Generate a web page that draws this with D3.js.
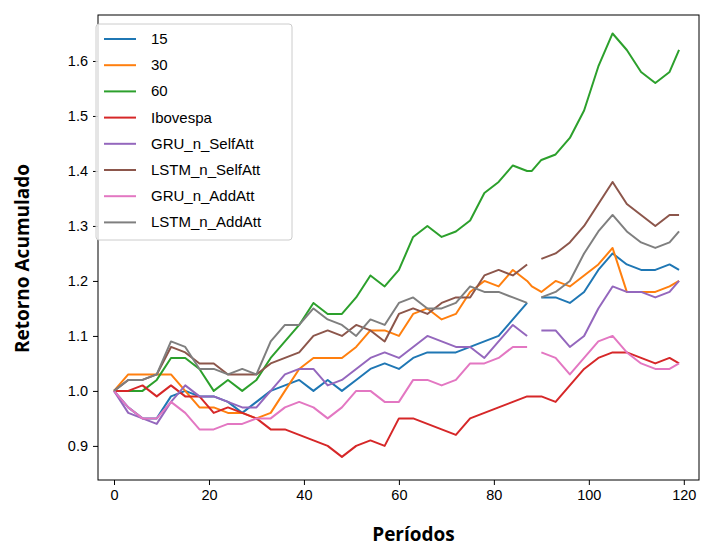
<!DOCTYPE html>
<html><head><meta charset="utf-8">
<script src="https://cdn.jsdelivr.net/npm/d3@7"></script>
<style>body{margin:0;background:#fff}</style>
</head><body><div id="main"></div>
<script>
const periods = [0,3,6,9,12,15,18,21,24,27,30,33,36,39,42,45,48,51,54,57,60,63,66,69,72,75,78,81,84,87,88,90,93,96,99,102,105,108,111,114,117,119]
const s15 = [1.0,0.97,0.95,0.95,0.99,1.0,0.99,0.99,0.98,0.96,0.98,1.0,1.01,1.02,1.0,1.02,1.0,1.02,1.04,1.05,1.04,1.06,1.07,1.07,1.07,1.08,1.09,1.10,1.13,1.16,null,1.17,1.17,1.16,1.18,1.22,1.25,1.23,1.22,1.22,1.23,1.22]
const s30 = [1.0,1.03,1.03,1.03,1.03,1.0,0.97,0.97,0.96,0.96,0.95,0.96,1.0,1.04,1.06,1.06,1.06,1.08,1.11,1.11,1.10,1.14,1.15,1.13,1.14,1.18,1.20,1.19,1.22,1.20,1.19,1.18,1.20,1.19,1.21,1.23,1.26,1.18,1.18,1.18,1.19,1.20]
const s60 = [1.0,1.0,1.0,1.02,1.06,1.06,1.04,1.0,1.02,1.0,1.02,1.06,1.09,1.12,1.16,1.14,1.14,1.17,1.21,1.19,1.22,1.28,1.30,1.28,1.29,1.31,1.36,1.38,1.41,1.40,1.40,1.42,1.43,1.46,1.51,1.59,1.65,1.62,1.58,1.56,1.58,1.62]
const ibov = [1.0,1.0,1.01,0.99,1.01,0.99,0.99,0.96,0.97,0.96,0.95,0.93,0.93,0.92,0.91,0.90,0.88,0.90,0.91,0.90,0.95,0.95,0.94,0.93,0.92,0.95,0.96,0.97,0.98,0.99,0.99,0.99,0.98,1.01,1.04,1.06,1.07,1.07,1.06,1.05,1.06,1.05]
const gruSelf = [1.0,0.96,0.95,0.94,0.98,1.01,0.99,0.99,0.98,0.97,0.97,1.0,1.03,1.04,1.04,1.01,1.02,1.04,1.06,1.07,1.06,1.08,1.10,1.09,1.08,1.08,1.06,1.09,1.12,1.10,null,1.11,1.11,1.08,1.10,1.15,1.19,1.18,1.18,1.17,1.18,1.20]
const lstmSelf = [1.0,1.02,1.02,1.03,1.08,1.07,1.05,1.05,1.03,1.03,1.03,1.05,1.06,1.07,1.10,1.11,1.10,1.12,1.11,1.09,1.14,1.15,1.14,1.16,1.17,1.17,1.21,1.22,1.21,1.23,null,1.24,1.25,1.27,1.30,1.34,1.38,1.34,1.32,1.30,1.32,1.32]
const gruAdd = [1.0,0.97,0.95,0.95,0.98,0.96,0.93,0.93,0.94,0.94,0.95,0.95,0.97,0.98,0.97,0.95,0.97,1.0,1.0,0.98,0.98,1.02,1.02,1.01,1.02,1.05,1.05,1.06,1.08,1.08,null,1.07,1.06,1.03,1.06,1.09,1.10,1.07,1.05,1.04,1.04,1.05]
const lstmAdd = [1.0,1.02,1.02,1.03,1.09,1.08,1.04,1.04,1.03,1.04,1.03,1.09,1.12,1.12,1.15,1.13,1.12,1.10,1.13,1.12,1.16,1.17,1.15,1.15,1.16,1.19,1.18,1.18,1.17,1.16,null,1.17,1.18,1.20,1.25,1.29,1.32,1.29,1.27,1.26,1.27,1.29]

const names = ['15','30','60','Ibovespa','GRU_n_SelfAtt','LSTM_n_SelfAtt','GRU_n_AddAtt','LSTM_n_AddAtt']
const values = [s15, s30, s60, ibov, gruSelf, lstmSelf, gruAdd, lstmAdd]
const colors = ['#1f77b4','#ff7f0e','#2ca02c','#d62728','#9467bd','#8c564b','#e377c2','#7f7f7f']
const xTicks = [0,20,40,60,80,100,120]
const yTicks = [0.9,1.0,1.1,1.2,1.3,1.4,1.5,1.6]

const W = 701, H = 549
const L = 98, R = 699, T = 15, B = 480
const font = 'Liberation Sans'
const titleFont = 'Open Sans'

let svg = d3.select('#main').append('svg').attr('width', W).attr('height', H)
let x = d3.scaleLinear().domain([-3.37, 123.2]).range([L, R])
let y = d3.scaleLinear().domain([0.838, 1.6836]).range([B, T])

let line = d3.line()
    .defined(d => d[1] !== null)
    .x(d => x(d[0]))
    .y(d => y(d[1]))

values.forEach((v, i) => {
    svg.append('path')
        .datum(periods.map((p, j) => [p, v[j]]))
        .attr('fill', 'none')
        .attr('stroke', colors[i])
        .attr('stroke-width', 2)
        .attr('stroke-linejoin', 'round')
        .attr('d', line)
})

svg.append('rect').attr('x', L).attr('y', T).attr('width', R - L).attr('height', B - T)
    .attr('fill', 'none').attr('stroke', '#000').attr('stroke-width', 1)

let xa = svg.append('g').attr('transform', `translate(0,${B})`)
    .call(d3.axisBottom(x).tickValues(xTicks).tickSize(5).tickPadding(5).tickFormat(d3.format('d')))
let ya = svg.append('g').attr('transform', `translate(${L},0)`)
    .call(d3.axisLeft(y).tickValues(yTicks).tickSize(5).tickPadding(5).tickFormat(d3.format('.1f')))
;[xa, ya].forEach(a => {
    a.select('.domain').remove()
    a.selectAll('text').attr('font-family', font).attr('font-size', 14.5).attr('fill', '#000')
})

svg.append('text').attr('x', (L + R) / 2 + 15).attr('y', 541).attr('text-anchor', 'middle')
    .attr('font-family', titleFont).attr('font-size', 19).attr('font-weight', 'bold').text('Períodos')
svg.append('text').attr('transform', `translate(29,${(T + B) / 2 + 11}) rotate(-90)`).attr('text-anchor', 'middle')
    .attr('font-family', titleFont).attr('font-size', 19).attr('font-weight', 'bold').text('Retorno Acumulado')

// legend
let lg = svg.append('g').attr('transform', 'translate(96,24)')
lg.append('rect').attr('width', 196).attr('height', 216).attr('rx', 3)
    .attr('fill', '#fff').attr('fill-opacity', 0.8).attr('stroke', '#ccc')
names.forEach((n, i) => {
    let yy = 15 + i * 26.2
    lg.append('line').attr('x1', 8).attr('x2', 40).attr('y1', yy).attr('y2', yy)
        .attr('stroke', colors[i]).attr('stroke-width', 2)
    lg.append('text').attr('x', 55).attr('y', yy + 5).attr('font-family', font).attr('font-size', 15).text(n)
})
</script></body></html>
